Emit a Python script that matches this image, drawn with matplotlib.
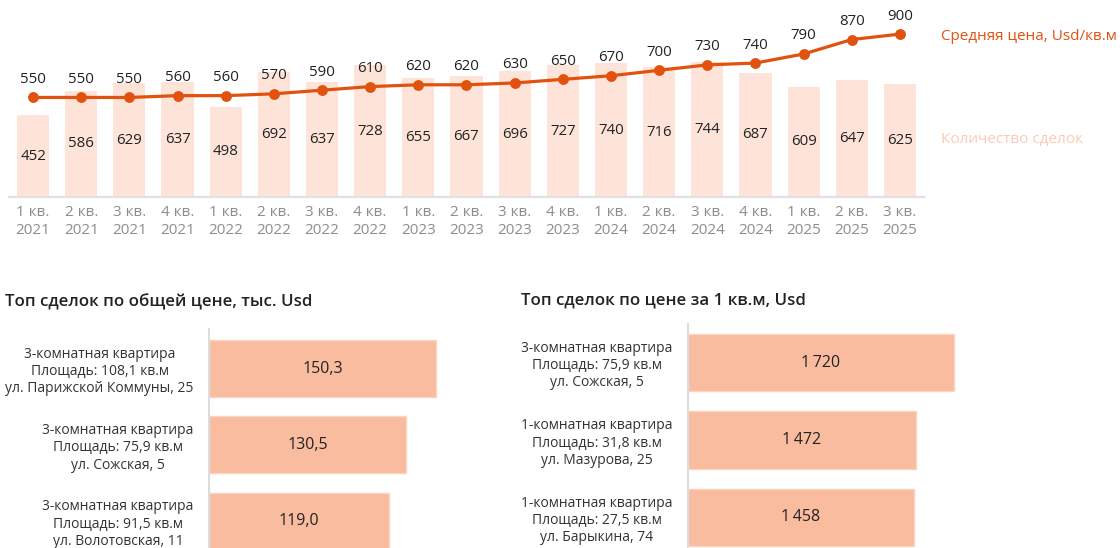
import matplotlib
matplotlib.use('Agg')
import matplotlib.pyplot as plt

plt.rcParams['font.family'] = ['Open Sans', 'DejaVu Sans']

# Данные: динамика по кварталам
quarters = ['1 кв.\n2021', '2 кв.\n2021', '3 кв.\n2021', '4 кв.\n2021',
            '1 кв.\n2022', '2 кв.\n2022', '3 кв.\n2022', '4 кв.\n2022',
            '1 кв.\n2023', '2 кв.\n2023', '3 кв.\n2023', '4 кв.\n2023',
            '1 кв.\n2024', '2 кв.\n2024', '3 кв.\n2024', '4 кв.\n2024',
            '1 кв.\n2025', '2 кв.\n2025', '3 кв.\n2025']
deals = [452, 586, 629, 637, 498, 692, 637, 728, 655, 667, 696, 727,
         740, 716, 744, 687, 609, 647, 625]
avg_price = [550, 550, 550, 560, 560, 570, 590, 610, 620, 620, 630, 650,
             670, 700, 730, 740, 790, 870, 900]

# Топ сделок по общей цене, тыс. Usd
top_total_labels = ['3-комнатная квартира\nПлощадь: 108,1 кв.м\nул. Парижской Коммуны, 25',
                    '3-комнатная квартира\nПлощадь: 75,9 кв.м\nул. Сожская, 5',
                    '3-комнатная квартира\nПлощадь: 91,5 кв.м\nул. Волотовская, 11']
top_total_values = [150.3, 130.5, 119.0]

# Топ сделок по цене за 1 кв.м, Usd
top_sqm_labels = ['3-комнатная квартира\nПлощадь: 75,9 кв.м\nул. Сожская, 5',
                  '1-комнатная квартира\nПлощадь: 31,8 кв.м\nул. Мазурова, 25',
                  '1-комнатная квартира\nПлощадь: 27,5 кв.м\nул. Барыкина, 74']
top_sqm_values = [1720, 1472, 1458]

LINE_COLOR = '#E1520F'
BAR_LIGHT = '#FDE3D8'
BAR_TOP = '#F9BC9F'
TEXT = '#222222'

W, H = 1120, 548
fig = plt.figure(figsize=(W / 100, H / 100), dpi=100)


def box(x0, y_top, x1, y_bottom):
    return [x0 / W, 1 - y_bottom / H, (x1 - x0) / W, (y_bottom - y_top) / H]


# Верхний график: сделки и средняя цена
ax = fig.add_axes(box(9, 16, 924, 197))
x = list(range(len(quarters)))
ax.bar(x, deals, width=0.667, color=BAR_LIGHT, zorder=1)
for i, v in enumerate(deals):
    ax.text(i, v / 2, str(v), ha='center', va='center', fontsize=10.8, color=TEXT)
ax.plot(x, avg_price, color=LINE_COLOR, lw=2.3, marker='o', ms=6.8, zorder=3)
for i, v in enumerate(avg_price):
    ax.annotate(str(v), (i, v), xytext=(0, 13), textcoords='offset points',
                ha='center', va='center', fontsize=10.8, color=TEXT,
                annotation_clip=False)
ax.set_xlim(-0.5, len(quarters) - 0.5)
ax.set_ylim(0, 1000)
ax.set_yticks([])
ax.set_xticks(x, quarters)
ax.tick_params(axis='x', length=0, pad=6, labelsize=11, labelcolor='#8C8C8C')
for s in ['top', 'right', 'left']:
    ax.spines[s].set_visible(False)
ax.spines['bottom'].set_color('#E2E2E2')
ax.spines['bottom'].set_linewidth(1.6)

fig.text(941 / W, 1 - 36 / H, 'Средняя цена, Usd/кв.м', color=LINE_COLOR,
         fontsize=11, va='center', ha='left')
fig.text(941 / W, 1 - 140 / H, 'Количество сделок', color='#FCCBB5',
         fontsize=11, va='center', ha='left')


def top_bars(axh, labels, values, fmt):
    axh.barh(range(len(values)), values, height=0.745, color=BAR_TOP,
             edgecolor='#FBD3C1', linewidth=1)
    for i, v in enumerate(values):
        axh.text(v / 2, i, fmt(v), ha='center', va='center', fontsize=11.5,
                 color=TEXT)
    axh.set_yticks(range(len(values)), labels)
    axh.tick_params(axis='y', length=0, pad=11, labelsize=10, labelcolor='#333333')
    for lbl in axh.get_yticklabels():
        lbl.set_multialignment('center')
    axh.set_xticks([])
    for s in ['top', 'right', 'bottom']:
        axh.spines[s].set_visible(False)
    axh.spines['left'].set_color('#DCDCDC')
    axh.spines['left'].set_linewidth(1.5)


ax1 = fig.add_axes(box(209, 329, 480, 548))
top_bars(ax1, top_total_labels, top_total_values,
         lambda v: f'{v:.1f}'.replace('.', ','))
ax1.set_xlim(0, 179.5)
ax1.set_ylim(2.353, -0.518)

ax2 = fig.add_axes(box(688, 324, 1110, 548))
top_bars(ax2, top_sqm_labels, top_sqm_values,
         lambda v: f'{v:,}'.replace(',', '\u2009'))
ax2.set_xlim(0, 2728)
ax2.set_ylim(2.394, -0.497)

fig.text(5 / W, 1 - 302 / H, 'Топ сделок по общей цене, тыс. Usd', fontsize=12.2,
         fontweight='semibold', color=TEXT, va='center', ha='left')
fig.text(521 / W, 1 - 300 / H, 'Топ сделок по цене за 1 кв.м, Usd', fontsize=12.2,
         fontweight='semibold', color=TEXT, va='center', ha='left')

fig.savefig('out.png', dpi=100)
